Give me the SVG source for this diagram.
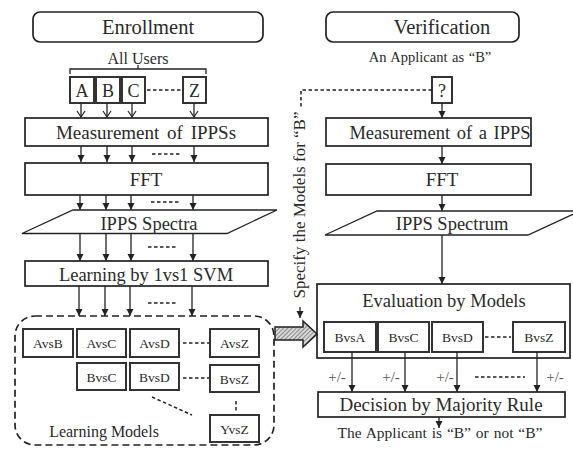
<svg xmlns="http://www.w3.org/2000/svg" width="573" height="455" viewBox="0 0 573 455">
<style>
text{font-family:'Liberation Serif','Times New Roman',Tinos,'DejaVu Serif',serif;fill:#2a2a2a;text-anchor:middle}
.box{fill:#fff;stroke:#222;stroke-width:1.7}
.mb{fill:#fff;stroke:#333;stroke-width:2}
.ln{stroke:#222;stroke-width:1.3;fill:none}
.dl{stroke:#222;stroke-width:1.5;fill:none;stroke-dasharray:3.5,2.5}
.t20{font-size:20.5px}
.t19{font-size:19px}
.t18{font-size:18.5px}
.t13{font-size:13.5px}
.pm{font-size:15px;fill:#555}
</style>
<defs>
<marker id="fa" markerWidth="8" markerHeight="8" refX="7" refY="4" orient="auto" markerUnits="userSpaceOnUse">
<path d="M0,0.5 L7,4 L0,7.5 Z" fill="#222"/>
</marker>
<marker id="oa" markerWidth="10" markerHeight="10" refX="7" refY="5" orient="auto" markerUnits="userSpaceOnUse">
<path d="M1,1 L7,5 L1,9" fill="none" stroke="#222" stroke-width="1.2"/>
</marker>
<pattern id="hatch" patternUnits="userSpaceOnUse" width="3" height="3" patternTransform="rotate(45)">
<rect width="3" height="3" fill="#d8d8d8"/>
<line x1="0" y1="0" x2="0" y2="3" stroke="#555" stroke-width="1.2"/>
</pattern>
</defs>

<g font-family="Liberation Serif, Times New Roman, serif">
<!-- Enrollment side -->
<g id="enrollment-title">
<rect x="33" y="12" width="230" height="30" rx="7" class="box"/>
<text x="148" y="34" class="t20">Enrollment</text>
</g>
<g id="all-users">
<text x="138" y="64" style="font-size:16px">All Users</text>
<path d="M70,74 V69 H206 V74 M138,69 V65" class="ln"/>
</g>
<g id="user-A"><rect x="70" y="77" width="24" height="26" class="mb"/><text x="82" y="97" style="font-size:18px">A</text></g>
<g id="user-B"><rect x="96" y="77" width="24" height="26" class="mb"/><text x="108" y="97" style="font-size:18px">B</text></g>
<g id="user-C"><rect x="122" y="77" width="23" height="26" class="mb"/><text x="133.5" y="97" style="font-size:18px">C</text></g>
<g id="user-Z"><rect x="183" y="77" width="23" height="26" class="mb"/><text x="194.5" y="97" style="font-size:18px">Z</text></g>
<g id="measurement-ippss">
<rect x="25" y="118" width="243" height="28" class="box"/>
<text x="146" y="139" class="t19" word-spacing="3">Measurement of IPPSs</text>
</g>
<g id="fft-left">
<rect x="25" y="163" width="243" height="32" class="box"/>
<text x="146" y="186" class="t19">FFT</text>
</g>
<g id="ipps-spectra">
<polygon points="73,210 277,210 227,233.5 22,233.5" class="box" style="stroke-width:1.3"/>
<text x="149" y="230" class="t18">IPPS Spectra</text>
</g>
<g id="learning-svm">
<rect x="25" y="261" width="243" height="25" class="box"/>
<text x="146" y="281" class="t18">Learning by 1vs1 SVM</text>
</g>
<g id="learning-models">
<rect x="15" y="316" width="259" height="129" rx="20" fill="none" stroke="#222" stroke-width="1.7" stroke-dasharray="7,4"/>
<text x="104" y="437" style="font-size:16px">Learning Models</text>
</g>
<g id="m-AvsB"><rect x="23" y="329" width="50" height="28" class="mb"/><text x="48" y="348" class="t13">AvsB</text></g>
<g id="m-AvsC"><rect x="77" y="329" width="49" height="28" class="mb"/><text x="101.5" y="348" class="t13">AvsC</text></g>
<g id="m-AvsD"><rect x="130" y="329" width="49" height="28" class="mb"/><text x="154.5" y="348" class="t13">AvsD</text></g>
<g id="m-AvsZ"><rect x="210" y="329" width="49" height="28" class="mb"/><text x="234.5" y="348" class="t13">AvsZ</text></g>
<g id="m-BvsC"><rect x="77" y="363" width="49" height="27" class="mb"/><text x="101.5" y="382" class="t13">BvsC</text></g>
<g id="m-BvsD"><rect x="130" y="363" width="49" height="27" class="mb"/><text x="154.5" y="382" class="t13">BvsD</text></g>
<g id="m-BvsZ"><rect x="210" y="365" width="49" height="27" class="mb"/><text x="234.5" y="384" class="t13">BvsZ</text></g>
<g id="m-YvsZ"><rect x="210" y="415" width="49" height="27" class="mb"/><text x="234.5" y="434" class="t13">YvsZ</text></g>

<!-- Verification side -->
<g id="verification-title">
<rect x="326" y="12" width="193" height="30" rx="7" class="box"/>
<text x="442" y="34" class="t20">Verification</text>
</g>
<g id="applicant">
<text x="430" y="62" style="font-size:14.5px" word-spacing="1">An Applicant as “B”</text>
</g>
<g id="applicant-box"><rect x="432" y="77" width="20" height="26" class="mb"/><text x="442" y="97" style="font-size:18px">?</text></g>
<g id="measurement-ipps">
<rect x="326" y="118" width="205" height="28" class="box"/>
<text x="440" y="139" class="t18" word-spacing="2">Measurement of a IPPS</text>
</g>
<g id="fft-right">
<rect x="326" y="164" width="205" height="31" class="box"/>
<text x="442" y="186" class="t19">FFT</text>
</g>
<g id="ipps-spectrum">
<polygon points="377,211 580,211 528,235 325,235" class="box" style="stroke-width:1.3"/>
<text x="452" y="230" class="t18">IPPS Spectrum</text>
</g>
<g id="evaluation">
<rect x="317" y="284" width="253" height="74" class="box"/>
<text x="444" y="307" class="t18">Evaluation by Models</text>
</g>
<g id="e-BvsA"><rect x="324" y="322" width="52" height="30" class="mb"/><text x="350" y="342" class="t13">BvsA</text></g>
<g id="e-BvsC"><rect x="378" y="322" width="51" height="30" class="mb"/><text x="403.5" y="342" class="t13">BvsC</text></g>
<g id="e-BvsD"><rect x="432" y="322" width="51" height="30" class="mb"/><text x="457.5" y="342" class="t13">BvsD</text></g>
<g id="e-BvsZ"><rect x="513" y="322" width="52" height="30" class="mb"/><text x="539" y="342" class="t13">BvsZ</text></g>
<g id="decision">
<rect x="318" y="392" width="247" height="25" class="box"/>
<text x="441" y="411" class="t19">Decision by Majority Rule</text>
</g>
<g id="result">
<text x="440" y="438" style="font-size:15.5px" word-spacing="1">The Applicant is “B” or not “B”</text>
</g>
<g id="specify-label">
<text transform="translate(305,205) rotate(-90)" style="font-size:17px">Specify the Models for “B”</text>
</g>
<g id="hatched-arrow">
<polygon points="275,327 303,327 303,321 317,334 303,347 303,340 275,340" fill="url(#hatch)" stroke="#222" stroke-width="1.5"/>
</g>

<g id="connectors">
<line x1="81" y1="103" x2="81" y2="117" class="ln" marker-end="url(#oa)"/>
<line x1="107" y1="103" x2="107" y2="117" class="ln" marker-end="url(#oa)"/>
<line x1="132" y1="103" x2="132" y2="117" class="ln" marker-end="url(#oa)"/>
<line x1="194" y1="103" x2="194" y2="117" class="ln" marker-end="url(#oa)"/>
<line x1="147" y1="90" x2="182" y2="90" class="dl"/>
<line x1="81" y1="146" x2="81" y2="162" class="ln" marker-end="url(#fa)"/>
<line x1="107" y1="146" x2="107" y2="162" class="ln" marker-end="url(#fa)"/>
<line x1="132" y1="146" x2="132" y2="162" class="ln" marker-end="url(#fa)"/>
<line x1="194" y1="146" x2="194" y2="162" class="ln" marker-end="url(#fa)"/>
<line x1="152" y1="154" x2="182" y2="154" class="dl"/>
<line x1="80" y1="195" x2="80" y2="210" class="ln" marker-end="url(#fa)"/>
<line x1="106" y1="195" x2="106" y2="210" class="ln" marker-end="url(#fa)"/>
<line x1="131" y1="195" x2="131" y2="210" class="ln" marker-end="url(#fa)"/>
<line x1="193" y1="195" x2="193" y2="210" class="ln" marker-end="url(#fa)"/>
<line x1="151" y1="202" x2="181" y2="202" class="dl"/>
<line x1="80" y1="234" x2="80" y2="261" class="ln" marker-end="url(#fa)"/>
<line x1="106" y1="234" x2="106" y2="261" class="ln" marker-end="url(#fa)"/>
<line x1="131" y1="234" x2="131" y2="261" class="ln" marker-end="url(#fa)"/>
<line x1="193" y1="234" x2="193" y2="261" class="ln" marker-end="url(#fa)"/>
<line x1="148" y1="247" x2="178" y2="247" class="dl"/>
<line x1="79" y1="286" x2="79" y2="316" class="ln" marker-end="url(#fa)"/>
<line x1="105" y1="286" x2="105" y2="316" class="ln" marker-end="url(#fa)"/>
<line x1="130" y1="286" x2="130" y2="316" class="ln" marker-end="url(#fa)"/>
<line x1="192" y1="286" x2="192" y2="316" class="ln" marker-end="url(#fa)"/>
<line x1="148" y1="303" x2="178" y2="303" class="dl"/>
<line x1="183" y1="343" x2="209" y2="343" class="dl"/>
<line x1="183" y1="378" x2="209" y2="378" class="dl"/>
<line x1="152" y1="397" x2="192" y2="415" class="dl"/>
<line x1="236" y1="401" x2="236" y2="412" class="dl"/>
<line x1="442" y1="103" x2="442" y2="118" class="ln" marker-end="url(#fa)"/>
<line x1="442" y1="146" x2="442" y2="164" class="ln" marker-end="url(#fa)"/>
<line x1="442" y1="195" x2="442" y2="211" class="ln" marker-end="url(#fa)"/>
<line x1="442" y1="235" x2="442" y2="284" class="ln" marker-end="url(#fa)"/>
<path d="M432,90 H301 V108" class="dl"/>
<line x1="300" y1="307" x2="300" y2="318" class="ln" marker-end="url(#fa)"/>
<line x1="485" y1="337" x2="511" y2="337" class="dl"/>
<line x1="352" y1="352" x2="352" y2="392" class="ln" marker-end="url(#fa)"/>
<line x1="405" y1="352" x2="405" y2="392" class="ln" marker-end="url(#fa)"/>
<line x1="457" y1="352" x2="457" y2="392" class="ln" marker-end="url(#fa)"/>
<line x1="537" y1="352" x2="537" y2="392" class="ln" marker-end="url(#fa)"/>
<line x1="475" y1="377" x2="525" y2="377" class="dl"/>
<text x="337" y="382" class="pm">+/-</text>
<text x="391" y="382" class="pm">+/-</text>
<text x="445" y="382" class="pm">+/-</text>
<text x="555" y="382" class="pm">+/-</text>
<line x1="439" y1="417" x2="439" y2="428" class="ln" marker-end="url(#fa)"/>
</g>
</g>
</svg>
